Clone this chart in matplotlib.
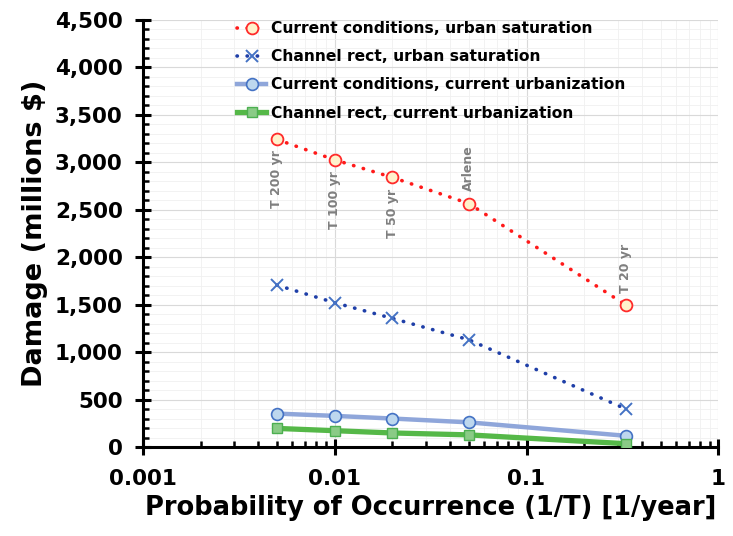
import matplotlib.pyplot as plt
from matplotlib.ticker import FuncFormatter, MultipleLocator, LogLocator, FixedLocator, NullFormatter

plt.rcParams['font.family'] = ['DejaVu Sans']
plt.rcParams['font.weight'] = 'bold'

# probability of occurrence (1/T)
prob = [0.005, 0.01, 0.02, 0.05, 0.33]
event_labels = ['T 200 yr', 'T 100 yr', 'T 50 yr', 'Arlene', 'T 20 yr']

# damage, millions $
cur_urban_sat = [3240, 3025, 2840, 2565, 1495]
rect_urban_sat = [1705, 1520, 1355, 1130, 400]
cur_cur_urb = [352, 328, 300, 260, 118]
rect_cur_urb = [196, 172, 148, 128, 35]

fig, ax = plt.subplots(figsize=(7.33, 5.36), dpi=100)
fig.subplots_adjust(left=0.195, right=0.98, bottom=0.166, top=0.963)

ax.plot(prob, cur_urban_sat, color='#FF1A1A', lw=2.6, linestyle=(0, (0.1, 2.7)),
        dash_capstyle='round', marker='o', ms=8.5, mfc='#FFF2CC', mec='#FF2A2A', mew=1.3,
        label='Current conditions, urban saturation', zorder=4)
ax.plot(prob, rect_urban_sat, color='#1F3FA8', lw=2.6, linestyle=(0, (0.1, 2.7)),
        dash_capstyle='round', marker='x', ms=8, mec='#4472C4', mew=1.4,
        label='Channel rect, urban saturation', zorder=4)
ax.plot(prob, cur_cur_urb, color='#8FA6DA', lw=3.2, marker='o', ms=8.5,
        mfc='#BDD7EE', mec='#4472C4', mew=1.2,
        label='Current conditions, current urbanization', zorder=3)
ax.plot(prob, rect_cur_urb, color='#55B848', lw=3.8, marker='s', ms=7,
        mfc='#8ACB86', mec='#4CAF50', mew=1.0,
        label='Channel rect, current urbanization', zorder=3)

# event annotations
for x, y, lab in zip(prob, cur_urban_sat, event_labels):
    if lab in ('Arlene', 'T 20 yr'):
        ax.annotate(lab, (x, y), xytext=(0, 9), textcoords='offset points',
                    rotation=90, ha='center', va='bottom', color='#7F7F7F',
                    fontsize=9, fontweight='bold')
    else:
        ax.annotate(lab, (x, y), xytext=(0, -8), textcoords='offset points',
                    rotation=90, ha='center', va='top', color='#7F7F7F',
                    fontsize=9, fontweight='bold')

ax.set_xscale('log')
ax.set_xlim(0.001, 1)
ax.set_ylim(0, 4500)
ax.xaxis.set_major_locator(FixedLocator([0.001, 0.01, 0.1, 1]))
ax.xaxis.set_major_formatter(FuncFormatter(lambda v, p: f'{v:g}'))
ax.xaxis.set_minor_locator(LogLocator(base=10, subs=range(2, 10)))
ax.xaxis.set_minor_formatter(NullFormatter())
ax.yaxis.set_major_locator(MultipleLocator(500))
ax.yaxis.set_minor_locator(MultipleLocator(100))
ax.yaxis.set_major_formatter(FuncFormatter(lambda v, p: f'{int(v):,}'))

ax.grid(which='major', color='#D9D9D9', lw=0.8)
ax.grid(which='minor', color='#F0F0F0', lw=0.6)
ax.set_axisbelow(True)

for s in ('top', 'right'):
    ax.spines[s].set_visible(False)
for s in ('left', 'bottom'):
    ax.spines[s].set_linewidth(2.2)
ax.tick_params(which='major', direction='inout', length=11, width=2.2, labelsize=15.5)
ax.tick_params(axis='x', which='major', pad=10)
ax.tick_params(axis='y', which='major', pad=9)
ax.tick_params(which='minor', direction='in', length=4.5, width=1.8)

ax.set_xlabel('Probability of Occurrence (1/T) [1/year]', fontsize=18.5, fontweight='bold', labelpad=5)
ax.set_ylabel('Damage (millions $)', fontsize=19.5, fontweight='bold', labelpad=5)

leg = ax.legend(loc='upper left', bbox_to_anchor=(0.139, 1.03), frameon=False,
                fontsize=11.2, handlelength=1.9, handletextpad=0.3, labelspacing=0.85)

fig.savefig('out.png', dpi=100)
